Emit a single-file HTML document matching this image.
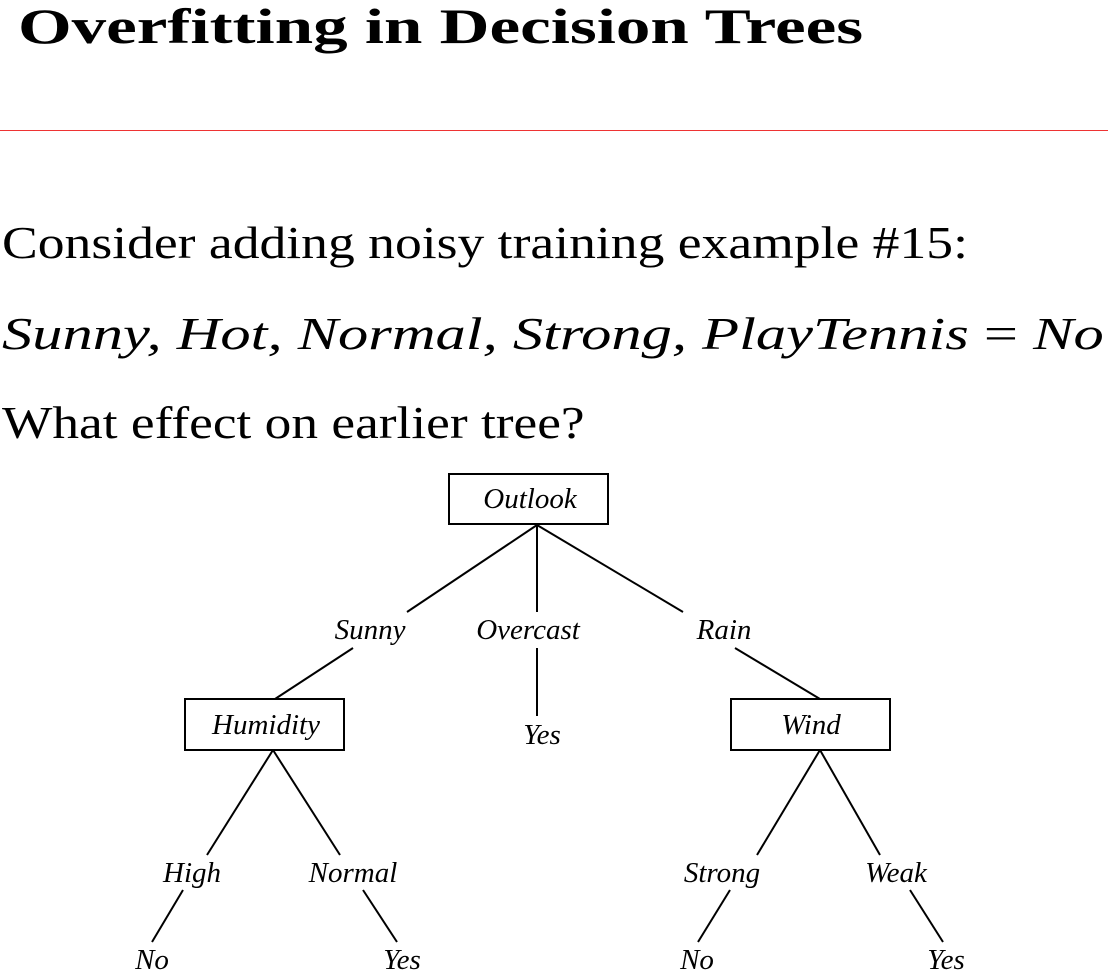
<!DOCTYPE html>
<html><head><style>
html,body{margin:0;padding:0;background:#fff;width:1108px;height:970px;overflow:hidden;position:relative;font-family:"Liberation Serif",serif;}
.t{position:absolute;white-space:nowrap;color:#000;transform-origin:0 0;}
</style></head><body>
<div class="t" style="left:18px;top:-3px;font-size:50px;font-weight:bold;transform:scaleX(1.38);">Overfitting in Decision Trees</div>
<div style="position:absolute;left:0;top:130px;width:1108px;height:1px;background:#e33;"></div>
<div class="t" style="left:2px;top:216px;font-size:46px;transform:scaleX(1.165);">Consider adding noisy training example #15:</div>
<div class="t" style="left:2px;top:307px;font-size:46px;font-style:italic;transform:scaleX(1.315);">Sunny, Hot, Normal, Strong, PlayTennis <span style="font-style:normal">=</span> No</div>
<div class="t" style="left:2px;top:396px;font-size:46px;transform:scaleX(1.16);">What effect on earlier tree?</div>
<svg width="1108" height="970" style="position:absolute;left:0;top:0" font-family="Liberation Serif, serif" font-style="italic" font-size="29">
<g fill="none" stroke="#000" stroke-width="2">
<rect x="449" y="474" width="159" height="50"/>
<rect x="185" y="699" width="159" height="51"/>
<rect x="731" y="699" width="159" height="51"/>
<line x1="537" y1="525" x2="407" y2="612"/>
<line x1="537" y1="525" x2="537" y2="612"/>
<line x1="537" y1="525" x2="683" y2="612"/>
<line x1="537" y1="648" x2="537" y2="716"/>
<line x1="353" y1="648" x2="275" y2="699"/>
<line x1="735" y1="648" x2="820" y2="699"/>
<line x1="273" y1="750" x2="207" y2="855"/>
<line x1="273" y1="750" x2="340" y2="855"/>
<line x1="183" y1="890" x2="152" y2="942"/>
<line x1="363" y1="890" x2="397" y2="942"/>
<line x1="820" y1="750" x2="757" y2="855"/>
<line x1="820" y1="750" x2="880" y2="855"/>
<line x1="730" y1="890" x2="698" y2="942"/>
<line x1="910" y1="890" x2="943" y2="942"/>
</g>
<g text-anchor="middle">
<text x="530" y="508">Outlook</text>
<text x="370" y="639">Sunny</text>
<text x="528" y="639">Overcast</text>
<text x="724" y="639">Rain</text>
<text x="266" y="734">Humidity</text>
<text x="542" y="744">Yes</text>
<text x="811" y="734">Wind</text>
<text x="192" y="882">High</text>
<text x="353" y="882">Normal</text>
<text x="722" y="882">Strong</text>
<text x="896" y="882">Weak</text>
<text x="152" y="969">No</text>
<text x="402" y="969">Yes</text>
<text x="697" y="969">No</text>
<text x="946" y="969">Yes</text>
</g>
</svg>
</body></html>
